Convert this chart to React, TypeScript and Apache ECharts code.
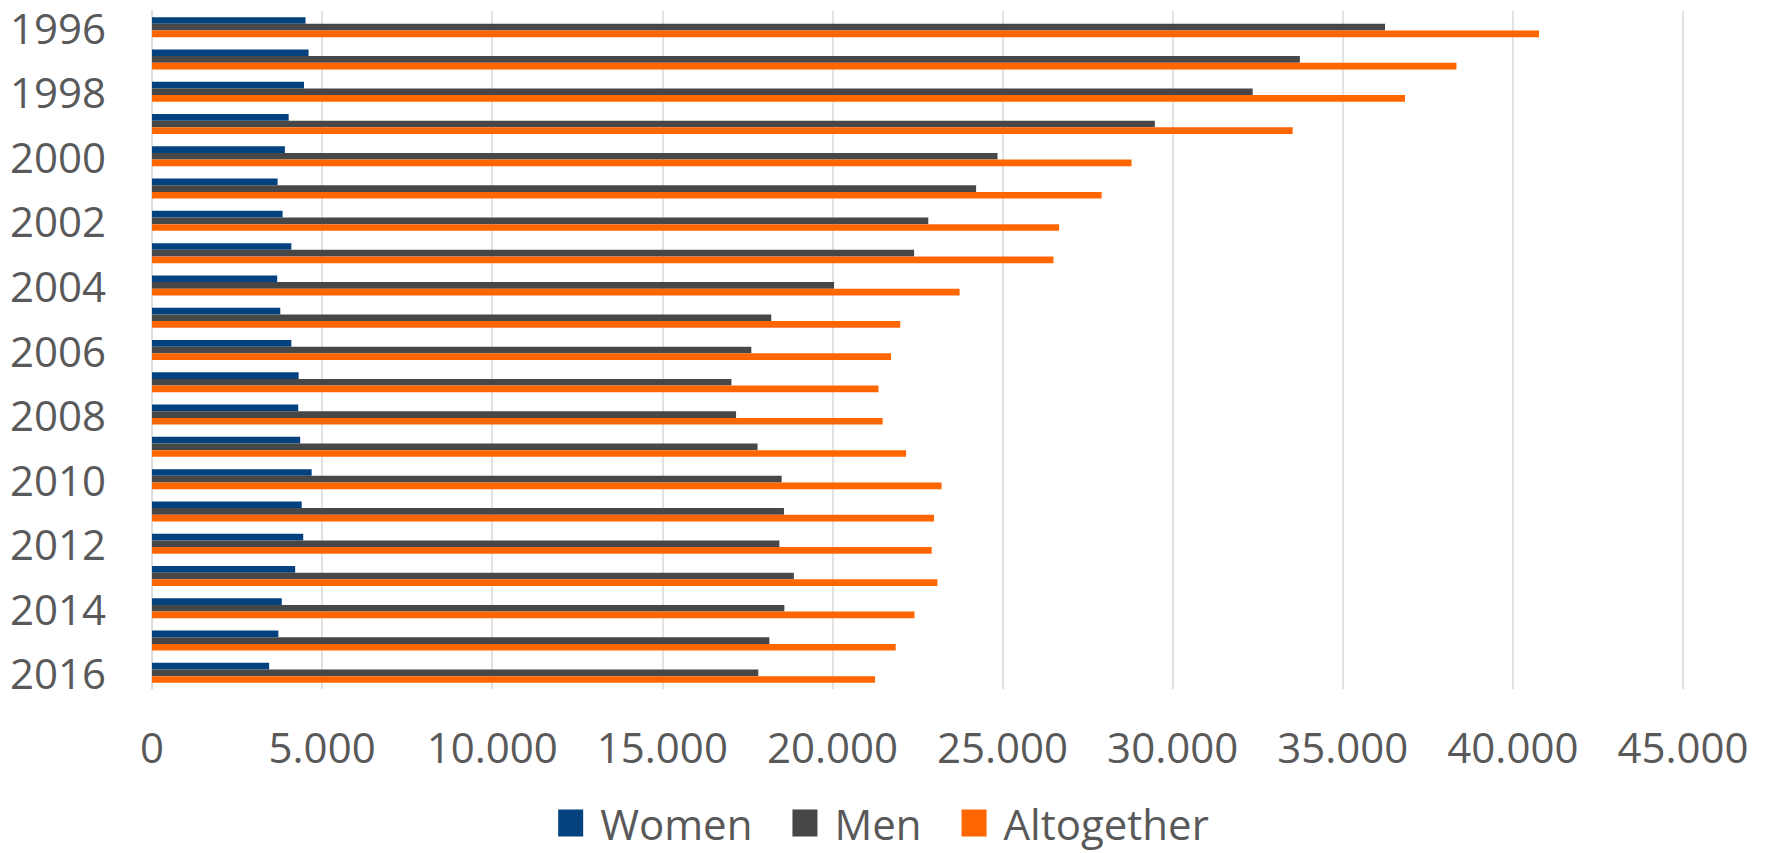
import React, { useEffect, useRef } from "react";
import * as echarts from "echarts";

const years = [
  "1996", "1997", "1998", "1999", "2000", "2001", "2002", "2003", "2004", "2005", "2006",
  "2007", "2008", "2009", "2010", "2011", "2012", "2013", "2014", "2015", "2016",
];
const women = [
  4513, 4602, 4467, 4017, 3905, 3691, 3838, 4096, 3680, 3770, 4096,
  4310, 4298, 4355, 4693, 4400, 4445, 4208, 3814, 3714, 3443,
];
const men = [
  36241, 33739, 32352, 29476, 24852, 24222, 22817, 22400, 20048, 18202, 17616,
  17031, 17167, 17799, 18507, 18575, 18440, 18866, 18587, 18146, 17820,
];
const altogether = [
  40769, 38341, 36829, 33528, 28791, 27912, 26663, 26495, 23738, 21994, 21723,
  21353, 21477, 22165, 23208, 22985, 22917, 23085, 22412, 21859, 21253,
];
const seriesNames = ["Women", "Men", "Altogether"];
const colors = ["#03427F", "#474747", "#FF6600"];

const FONT = "'Open Sans', 'Noto Sans', sans-serif";
const GRAY = "#595959";

function fmt(v: number): string {
  return String(v).replace(/\B(?=(\d{3})+(?!\d))/g, ".");
}

export default function App() {
  const ref = useRef<HTMLDivElement>(null);
  useEffect(() => {
    if (!ref.current) return;
    const chart = echarts.init(ref.current, undefined, { renderer: "svg" });
    const data = [women, men, altogether];
    chart.setOption({
      animation: false,
      backgroundColor: "#ffffff",
      grid: { left: 152, right: 84, top: 11, bottom: 164, containLabel: false },
      legend: {
        bottom: 8,
        left: "center",
        padding: 0,
        icon: "rect",
        itemWidth: 25,
        itemHeight: 27,
        itemGap: 40,
        data: seriesNames,
        textStyle: {
          fontSize: 42,
          lineHeight: 44,
          color: GRAY,
          fontFamily: FONT,
          padding: [0, 0, 0, 12],
        },
      },
      xAxis: {
        type: "value",
        min: 0,
        max: 45000,
        interval: 5000,
        axisLine: { show: false },
        axisTick: { show: false },
        splitLine: { show: true, lineStyle: { color: "#D9D9D9", width: 1.5 } },
        axisLabel: {
          formatter: (v: number) => fmt(v),
          fontSize: 42,
          color: GRAY,
          fontFamily: FONT,
          margin: 36,
        },
      },
      yAxis: {
        type: "category",
        data: years,
        inverse: true,
        axisLine: { show: true, lineStyle: { color: "#D9D9D9", width: 1.5 } },
        axisTick: { show: false },
        axisLabel: {
          interval: 1,
          fontSize: 42,
          color: GRAY,
          fontFamily: FONT,
          margin: 46,
        },
      },
      series: seriesNames.map((name, i) => ({
        name,
        type: "bar",
        data: data[i],
        barGap: "0%",
        barCategoryGap: "38%",
        itemStyle: { color: colors[i] },
      })),
    });
    return () => chart.dispose();
  }, []);
  return (
    <div
      ref={ref}
      style={{ position: "fixed", left: 0, top: 0, width: 1767, height: 853, background: "#fff" }}
    />
  );
}
